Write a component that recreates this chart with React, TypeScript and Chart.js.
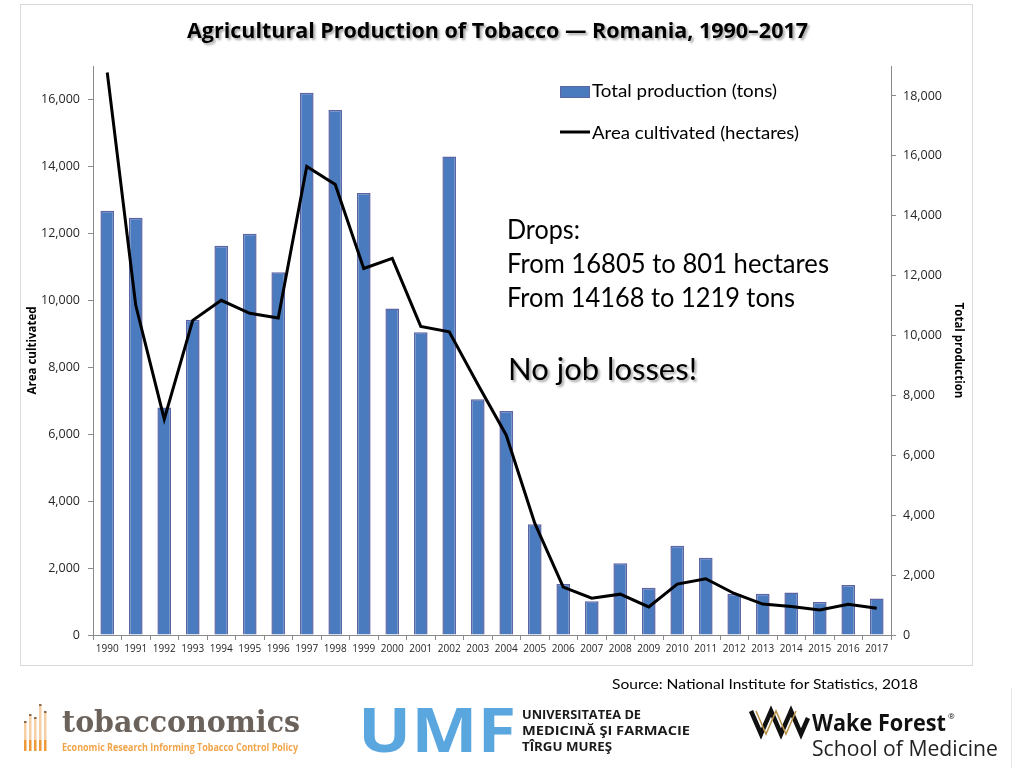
import React, { useEffect, useRef } from "react";
import { Chart, registerables } from "chart.js";

Chart.register(...registerables);

const years = [
  "1990", "1991", "1992", "1993", "1994", "1995", "1996", "1997", "1998", "1999",
  "2000", "2001", "2002", "2003", "2004", "2005", "2006", "2007", "2008", "2009",
  "2010", "2011", "2012", "2013", "2014", "2015", "2016", "2017",
];

// Total production (tons) — right axis
const productionTons = [
  14168, 13930, 7600, 10530, 13000, 13400, 12110, 18110, 17530, 14760,
  10900, 10110, 15980, 7870, 7480, 3700, 1700, 1130, 2400, 1580,
  2980, 2580, 1370, 1380, 1420, 1100, 1670, 1219,
];

// Area cultivated (hectares) — left axis
const areaHectares = [
  16805, 9850, 6450, 9400, 10000, 9610, 9470, 14000, 13460, 10950,
  11250, 9220, 9060, 7490, 5970, 3340, 1430, 1100, 1220, 840,
  1520, 1680, 1240, 925, 850, 750, 920, 801,
];

const leftMax = 17000;
const leftTicks = [0, 2000, 4000, 6000, 8000, 10000, 12000, 14000, 16000];
const rightMax = 19000;
const rightTicks = [0, 2000, 4000, 6000, 8000, 10000, 12000, 14000, 16000, 18000];

const titleText = "Agricultural Production of Tobacco \u2014 Romania, 1990\u20132017";
const legendBar = "Total production (tons)";
const legendLine = "Area cultivated (hectares)";
const leftAxisTitle = "Area cultivated";
const rightAxisTitle = "Total production";
const noteLines = ["Drops:", "From 16805 to 801 hectares", "From 14168 to 1219 tons"];
const noteBig = "No job losses!";
const sourceText = "Source: National Institute for Statistics, 2018";

const BAR_FILL = "#4a7bbf";
const BAR_EDGE = "#5d64a3";
const AXIS = "#8a8a8a";
const FONT = "'Open Sans', 'DejaVu Sans', sans-serif";
const NOTE_FONT = "Lato, 'Open Sans', sans-serif";
const NARROW = "'Liberation Sans Narrow', 'Open Sans', sans-serif";

function ChartCanvas() {
  const ref = useRef<HTMLCanvasElement | null>(null);
  useEffect(() => {
    if (!ref.current) return;
    const fmt = (v: any) => Number(v).toLocaleString("en-US");
    const chart = new Chart(ref.current, {
      type: "bar",
      data: {
        labels: years,
        datasets: [
          {
            type: "line",
            label: legendLine,
            data: areaHectares,
            yAxisID: "y",
            borderColor: "#000000",
            backgroundColor: "#000000",
            borderWidth: 3,
            pointRadius: 0,
            tension: 0,
            order: 1,
          } as any,
          {
            type: "bar",
            label: legendBar,
            data: productionTons,
            yAxisID: "y1",
            backgroundColor: BAR_FILL,
            borderColor: BAR_EDGE,
            borderWidth: 1.5,
            barPercentage: 0.48,
            categoryPercentage: 1,
            order: 2,
          } as any,
        ],
      },
      options: {
        responsive: false,
        animation: false,
        layout: { padding: { top: 62, left: 2, right: 4, bottom: 0 } },
        plugins: {
          legend: { display: false },
          tooltip: { enabled: false },
          title: { display: false },
        },
        scales: {
          x: {
            offset: true,
            grid: {
              display: true,
              drawOnChartArea: false,
              drawTicks: true,
              tickLength: 5,
              color: AXIS,
              offset: true,
            },
            border: { display: true, color: AXIS },
            ticks: {
              font: { family: FONT, size: 10 },
              color: "#262626",
              padding: 3,
              maxRotation: 0,
              autoSkip: false,
            },
            afterFit: (s: any) => {
              s.height = 31;
            },
          },
          y: {
            position: "left",
            min: 0,
            max: leftMax,
            grid: { drawOnChartArea: false, drawTicks: true, tickLength: 5, color: AXIS },
            border: { display: true, color: AXIS },
            ticks: {
              callback: fmt,
              font: { family: FONT, size: 12.5 },
              color: "#262626",
              padding: 8,
            },
            title: {
              display: true,
              text: leftAxisTitle,
              font: { family: FONT, size: 11.5, weight: "bold" },
              color: "#000",
            },
            afterBuildTicks: (s: any) => {
              s.ticks = leftTicks.map((v) => ({ value: v }));
            },
            afterFit: (s: any) => {
              s.width = 71;
            },
          },
          y1: {
            position: "right",
            min: 0,
            max: rightMax,
            grid: { drawOnChartArea: false, drawTicks: true, tickLength: 5, color: AXIS },
            border: { display: true, color: AXIS },
            ticks: {
              callback: fmt,
              font: { family: FONT, size: 12.5 },
              color: "#262626",
              padding: 7,
            },
            title: {
              display: true,
              text: rightAxisTitle,
              font: { family: FONT, size: 11.5, weight: "bold" },
              color: "#000",
            },
            afterBuildTicks: (s: any) => {
              s.ticks = rightTicks.map((v) => ({ value: v }));
            },
            afterFit: (s: any) => {
              s.width = 78;
            },
          },
        },
      } as any,
    });
    return () => chart.destroy();
  }, []);
  return (
    <canvas
      ref={ref}
      width={953}
      height={662}
      style={{ position: "absolute", left: 20, top: 4, width: 953, height: 662 }}
    />
  );
}

function Overlay() {
  return (
    <svg
      width={1024}
      height={768}
      style={{ position: "absolute", left: 0, top: 0, pointerEvents: "none" }}
    >
      <defs>
        <filter id="sh" x="-5%" y="-30%" width="110%" height="160%">
          <feDropShadow dx="2" dy="2" stdDeviation="1.2" floodColor="#000" floodOpacity="0.35" />
        </filter>
      </defs>

      {/* Title */}
      <text
        x={187}
        y={38}
        textLength={621}
        lengthAdjust="spacingAndGlyphs"
        fontFamily={NARROW}
        fontWeight="bold"
        fontSize={21}
        fill="#000"
        filter="url(#sh)"
      >
        {titleText}
      </text>

      {/* Legend */}
      <rect x={560.5} y={86.5} width={29} height={11} fill={BAR_FILL} stroke={BAR_EDGE} strokeWidth={1} />
      <text x={592} y={97} textLength={185} lengthAdjust="spacingAndGlyphs" fontFamily={NOTE_FONT} fontSize={16.5} fill="#000">
        {legendBar}
      </text>
      <line x1={560} x2={590} y1={132} y2={132} stroke="#000" strokeWidth={3} />
      <text x={592} y={138.5} textLength={207} lengthAdjust="spacingAndGlyphs" fontFamily={NOTE_FONT} fontSize={16.5} fill="#000">
        {legendLine}
      </text>

      {/* Notes */}
      <text x={507} y={239} textLength={73} lengthAdjust="spacingAndGlyphs" fontFamily={NOTE_FONT} fontSize={26} fill="#000">
        {noteLines[0]}
      </text>
      <text x={507} y={272.5} textLength={322} lengthAdjust="spacingAndGlyphs" fontFamily={NOTE_FONT} fontSize={26} fill="#000">
        {noteLines[1]}
      </text>
      <text x={507} y={307} textLength={288} lengthAdjust="spacingAndGlyphs" fontFamily={NOTE_FONT} fontSize={26} fill="#000">
        {noteLines[2]}
      </text>
      <text
        x={508}
        y={380}
        textLength={189}
        lengthAdjust="spacingAndGlyphs"
        fontFamily={NOTE_FONT}
        fontSize={31}
        fill="#000"
        filter="url(#sh)"
      >
        {noteBig}
      </text>

      {/* Source */}
      <text x={612} y={689} textLength={306} lengthAdjust="spacingAndGlyphs" fontFamily={NOTE_FONT} fontSize={14} fill="#000">
        {sourceText}
      </text>

      {/* faint right edge line */}
      <line x1={1011.5} x2={1011.5} y1={688} y2={768} stroke="#e6e6e6" strokeWidth={1} />

      {/* tobacconomics logo */}
      {[
        [24, 722],
        [29, 715],
        [34, 718],
        [39, 705],
        [44, 712],
      ].map(([x, t], i) => (
        <g key={i}>
          <rect x={x} y={t} width={2.5} height={740 - t} fill="#f6cfa4" />
          <rect x={x} y={t - 1} width={2.5} height={2} fill="#8a6a50" />
          <rect x={x} y={740} width={2.5} height={11} fill="#ef9a3a" />
        </g>
      ))}
      <text x={62} y={732} textLength={238} lengthAdjust="spacingAndGlyphs" fontFamily="'DejaVu Serif', serif" fontWeight="bold" fontSize={29} fill="#6b625b">
        tobacconomics
      </text>
      <text x={62} y={751} textLength={236} lengthAdjust="spacingAndGlyphs" fontFamily={NARROW} fontWeight="bold" fontSize={10.5} fill="#f1a448">
        Economic Research Informing Tobacco Control Policy
      </text>

      {/* UMF logo */}
      <text x={358} y={752} textLength={158} lengthAdjust="spacingAndGlyphs" fontFamily={NARROW} fontWeight="bold" fontSize={60} fill="#5aa6df">
        UMF
      </text>
      <text x={522} y={719} textLength={119} lengthAdjust="spacingAndGlyphs" fontFamily={NARROW} fontWeight="bold" fontSize={13} fill="#1a1a1a">
        UNIVERSITATEA DE
      </text>
      <text x={522} y={735} textLength={168} lengthAdjust="spacingAndGlyphs" fontFamily={NARROW} fontWeight="bold" fontSize={13} fill="#1a1a1a">
        MEDICINĂ ŞI FARMACIE
      </text>
      <text x={522} y={751} textLength={90} lengthAdjust="spacingAndGlyphs" fontFamily={NARROW} fontWeight="bold" fontSize={13} fill="#1a1a1a">
        TÎRGU MUREŞ
      </text>

      {/* Wake Forest logo */}
      <polyline
        points="751,711 761,734 771,711 781,734 791,711 801,734 808,718"
        fill="none"
        stroke="#111"
        strokeWidth={4.5}
        strokeLinejoin="miter"
      />
      <polyline
        points="756,711 766,734 776,711 786,734 796,711"
        fill="none"
        stroke="#b8924a"
        strokeWidth={1.5}
      />
      <text x={812} y={731} textLength={134} lengthAdjust="spacingAndGlyphs" fontFamily={FONT} fontWeight="bold" fontSize={23} fill="#111">
        Wake Forest
      </text>
      <text x={948} y={719} fontFamily={FONT} fontSize={8} fill="#111">
        ®
      </text>
      <text x={812} y={756} textLength={186} lengthAdjust="spacingAndGlyphs" fontFamily={FONT} fontSize={22} fill="#222">
        School of Medicine
      </text>
    </svg>
  );
}

export default function App() {
  return (
    <div style={{ position: "absolute", left: 0, top: 0, width: 1024, height: 768, background: "#fff", overflow: "hidden" }}>
      <div
        style={{
          position: "absolute",
          left: 20,
          top: 4,
          width: 953,
          height: 662,
          border: "1px solid #d9d9d9",
          boxSizing: "border-box",
        }}
      />
      <ChartCanvas />
      <Overlay />
    </div>
  );
}
